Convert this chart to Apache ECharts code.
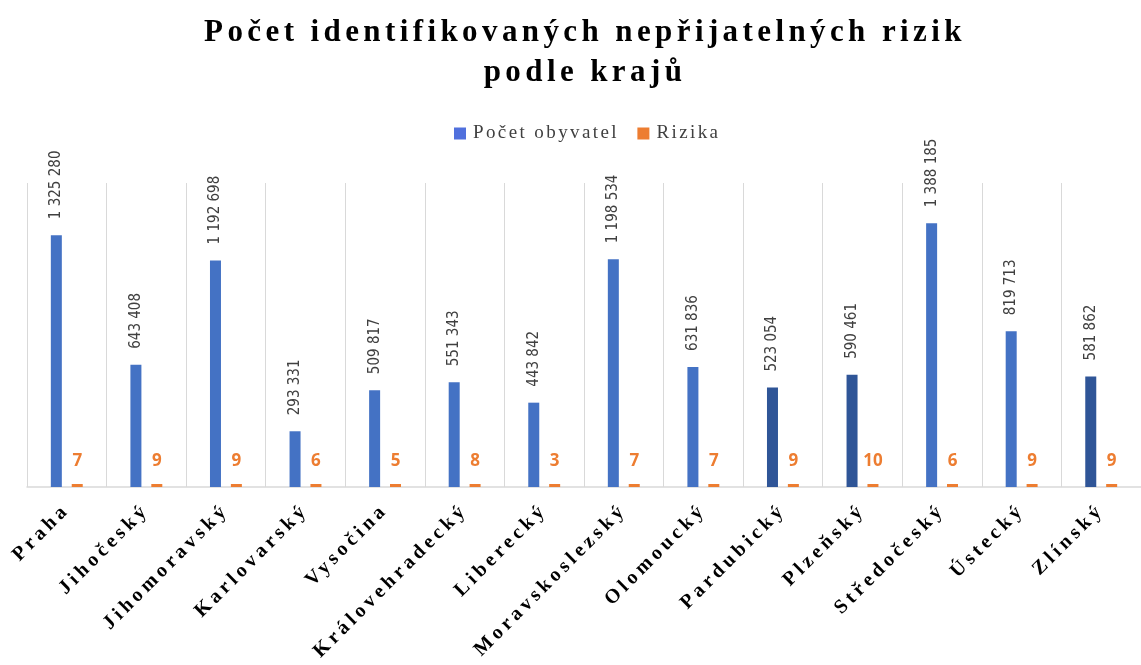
<!DOCTYPE html>
<html>
<head>
<meta charset="utf-8">
<script src="https://cdn.jsdelivr.net/npm/echarts@6/dist/echarts.min.js"></script>
<style>
html,body{margin:0;padding:0;background:#fff;}
#chart{width:1141px;height:665px;}
</style>
</head>
<body>
<div id="chart"></div>
<script>
const categories = ['Praha','Jihočeský','Jihomoravský','Karlovarský','Vysočina','Královehradecký','Liberecký','Moravskoslezský','Olomoucký','Pardubický','Plzeňský','Středočeský','Ústecký','Zlínský'];
const populace = [1325280, 643408, 1192698, 293331, 509817, 551343, 443842, 1198534, 631836, 523054, 590461, 1388185, 819713, 581862];
const rizika = [7, 9, 9, 6, 5, 8, 3, 7, 7, 9, 10, 6, 9, 9];
const seriesNames = ['Počet obyvatel', 'Rizika'];
const titleText = 'Počet identifikovaných nepřijatelných rizik\npodle krajů';

// letter spacing for the serif texts (canvas letterSpacing applied by font)
(function(){
  const proto = CanvasRenderingContext2D.prototype;
  const orig = proto.fillText;
  proto.fillText = function(t, x, y, m){
    const f = this.font || '';
    let ls = '0px';
    if (/Liberation Serif/.test(f)) {
      if (/31px/.test(f)) ls = '4.4px';
      else if (/bold/.test(f) && /20px/.test(f)) ls = '4px';
      else if (/19px/.test(f)) ls = '2.4px';
    }
    if ('letterSpacing' in this) this.letterSpacing = ls;
    const r = m === undefined ? orig.call(this, t, x, y) : orig.call(this, t, x, y, m);
    if ('letterSpacing' in this) this.letterSpacing = '0px';
    return r;
  };
})();

const darkerBars = ['Pardubický','Plzeňský','Zlínský'];
function fmt(v){ return String(v).replace(/\B(?=(\d{3})+(?!\d))/g, ' '); }

const chart = echarts.init(document.getElementById('chart'));
chart.setOption({
  animation: false,
  backgroundColor: '#fff',
  title: {
    text: titleText,
    left: 580,
    textAlign: 'center',
    top: 8,
    textStyle: {
      fontFamily: 'Liberation Serif',
      fontWeight: 'bold',
      fontSize: 31,
      lineHeight: 40,
      color: '#000'
    }
  },
  legend: {
    top: 119,
    left: 449,
    itemWidth: 12,
    itemHeight: 12,
    itemGap: 52,
    icon: 'rect',
    textStyle: { fontFamily: 'Liberation Serif', fontSize: 19, color: '#404040', padding: [0,0,0,2] },
    data: seriesNames
  },
  grid: { left: 27, width: 1124, top: 183, bottom: 178 },
  xAxis: {
    type: 'category',
    data: categories,
    axisLine: { lineStyle: { color: '#d9d9d9', width: 1.5 } },
    axisTick: { show: false },
    splitLine: { show: true, lineStyle: { color: '#d9d9d9', width: 1 } },
    axisLabel: {
      interval: 0,
      rotate: 45,
      margin: 20,
      fontFamily: 'Liberation Serif',
      fontWeight: 'bold',
      fontSize: 20,
      color: '#000'
    }
  },
  yAxis: {
    type: 'value',
    min: 0,
    max: 1600000,
    show: false,
    splitLine: { show: false }
  },
  series: [
    {
      name: seriesNames[0],
      type: 'bar',
      data: populace,
      barWidth: 11,
      barGap: '90%',
      itemStyle: {
        color: function(p){ return darkerBars.indexOf(p.name) >= 0 ? '#2F5597' : '#4472C4'; }
      },
      label: {
        show: true,
        position: 'top',
        rotate: 90,
        align: 'left',
        verticalAlign: 'middle',
        distance: 16,
        formatter: p => fmt(p.value),
        fontFamily: 'DejaVu Sans Condensed, Roboto',
        fontSize: 15,
        color: '#404040'
      }
    },
    {
      name: seriesNames[1],
      type: 'bar',
      data: rizika,
      barWidth: 11,
      barMinHeight: 3,
      itemStyle: { color: '#ED7D31' },
      label: {
        show: true,
        position: 'top',
        distance: 14,
        fontFamily: 'Open Sans',
        fontWeight: 'bold',
        fontSize: 17,
        color: '#ED7D31'
      }
    }
  ]
});
</script>
</body>
</html>
